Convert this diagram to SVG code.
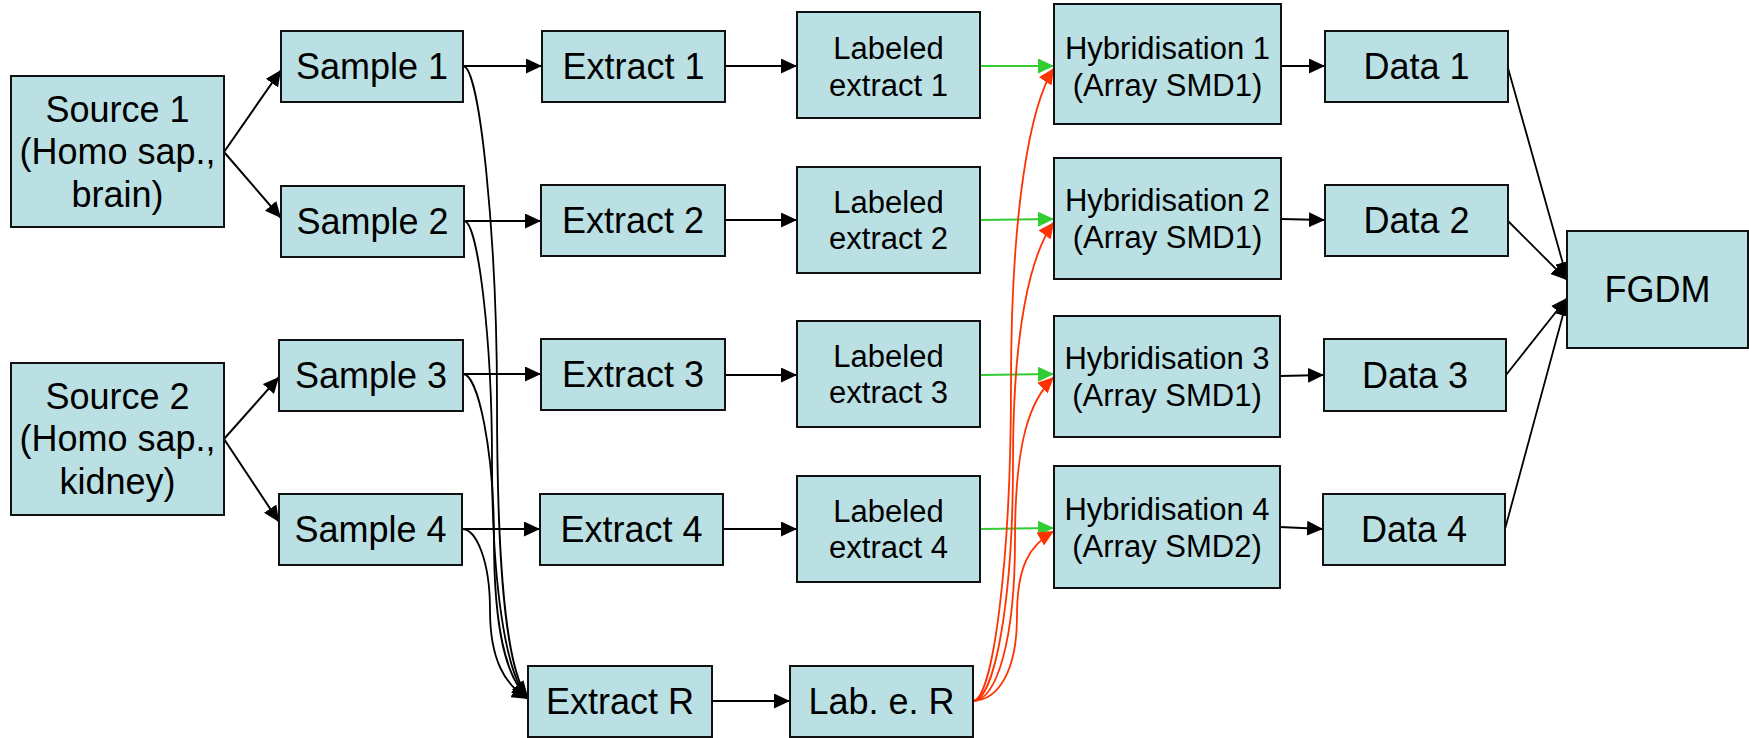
<svg xmlns="http://www.w3.org/2000/svg" width="1749" height="738" viewBox="0 0 1749 738">
  <style>
    .box { fill: #BBE0E3; stroke: #111; stroke-width: 2; }
    .t36 { font-family: "Liberation Sans", Arial, sans-serif; font-size: 36px; fill: #000; text-anchor: middle; }
    .t31 { font-family: "Liberation Sans", Arial, sans-serif; font-size: 31px; fill: #000; text-anchor: middle; }
    .blk { fill: none; stroke: #000; stroke-width: 2; marker-end: url(#ab); }
    .crv { fill: none; stroke: #000; stroke-width: 1.8; marker-end: url(#ab); }
    .grn { fill: none; stroke: #33CC33; stroke-width: 2; marker-end: url(#ag); }
    .red { fill: none; stroke: #FF3300; stroke-width: 1.8; marker-end: url(#ar); }
  </style>
  <defs>
    <marker id="ab" markerUnits="userSpaceOnUse" markerWidth="16" markerHeight="15" refX="16" refY="7.5" orient="auto">
      <path d="M0,0 L16,7.5 L0,15 Z" fill="#000"/>
    </marker>
    <marker id="ag" markerUnits="userSpaceOnUse" markerWidth="16" markerHeight="15" refX="16" refY="7.5" orient="auto">
      <path d="M0,0 L16,7.5 L0,15 Z" fill="#33CC33"/>
    </marker>
    <marker id="ar" markerUnits="userSpaceOnUse" markerWidth="16" markerHeight="15" refX="16" refY="7.5" orient="auto">
      <path d="M0,0 L16,7.5 L0,15 Z" fill="#FF3300"/>
    </marker>
  </defs>

  <rect width="1749" height="738" fill="#fff"/>

  <!-- connectors -->
  <g id="connectors">
    <!-- sources to samples -->
    <path class="blk" d="M224,152 L281,70"/>
    <path class="blk" d="M224,152 L281,218"/>
    <path class="blk" d="M224,439 L279,377"/>
    <path class="blk" d="M224,439 L279,522"/>
    <!-- samples to extracts -->
    <path class="blk" d="M463,66 L542,66"/>
    <path class="blk" d="M464,221 L541,221"/>
    <path class="blk" d="M463,374 L541,374"/>
    <path class="blk" d="M462,529 L540,529"/>
    <!-- samples to reference extract -->
    <path class="crv" d="M463,66 C480,66 497,240 497,400 C497,560 505,670 528,697"/>
    <path class="crv" d="M464,221 C478,221 492,340 492,460 C492,580 505,675 528,698"/>
    <path class="crv" d="M463,374 C478,374 494,450 494,540 C494,630 506,678 528,698"/>
    <path class="crv" d="M462,529 C476,529 490,560 490,610 C490,660 505,685 528,699"/>
    <!-- extracts to labeled extracts -->
    <path class="blk" d="M725,66 L797,66"/>
    <path class="blk" d="M725,220 L797,220"/>
    <path class="blk" d="M725,375 L797,375"/>
    <path class="blk" d="M723,529 L797,529"/>
    <path class="blk" d="M712,701 L790,701"/>
    <!-- labeled extracts to hybridisations -->
    <path class="grn" d="M980,66 L1054,66"/>
    <path class="grn" d="M980,220 L1054,219"/>
    <path class="grn" d="M980,375 L1054,374"/>
    <path class="grn" d="M980,529 L1054,528"/>
    <!-- labeled reference to hybridisations -->
    <path class="red" d="M973,701 C993,700 1011,560 1011,385 C1011,210 1030,105 1054,68"/>
    <path class="red" d="M973,701 C995,700 1013,600 1013,462 C1013,330 1030,255 1054,222"/>
    <path class="red" d="M973,701 C997,700 1015,640 1015,540 C1015,440 1030,400 1054,377"/>
    <path class="red" d="M973,701 C999,700 1017,670 1017,616 C1017,565 1030,545 1054,531"/>
    <!-- hybridisations to data -->
    <path class="blk" d="M1281,66 L1325,66"/>
    <path class="blk" d="M1281,219 L1325,220"/>
    <path class="blk" d="M1280,376 L1324,375"/>
    <path class="blk" d="M1280,527 L1323,529"/>
    <!-- data to FGDM -->
    <path class="blk" d="M1508,68 L1567,278" style="stroke-width:1.8"/>
    <path class="blk" d="M1508,221 L1567,280" style="stroke-width:1.8"/>
    <path class="blk" d="M1506,375 L1567,298" style="stroke-width:1.8"/>
    <path class="blk" d="M1505,529 L1567,300" style="stroke-width:1.8"/>
  </g>

  <!-- nodes -->
  <g id="source1">
    <rect class="box" x="11" y="76" width="213" height="151"/>
    <text class="t36" x="117.5" y="122">Source 1</text>
    <text class="t36" x="117.5" y="164">(Homo sap.,</text>
    <text class="t36" x="117.5" y="207">brain)</text>
  </g>
  <g id="source2">
    <rect class="box" x="11" y="363" width="213" height="152"/>
    <text class="t36" x="117.5" y="409">Source 2</text>
    <text class="t36" x="117.5" y="451">(Homo sap.,</text>
    <text class="t36" x="117.5" y="494">kidney)</text>
  </g>

  <g id="sample1">
    <rect class="box" x="281" y="31" width="182" height="71"/>
    <text class="t36" x="372" y="79">Sample 1</text>
  </g>
  <g id="sample2">
    <rect class="box" x="281" y="186" width="183" height="71"/>
    <text class="t36" x="372.5" y="234">Sample 2</text>
  </g>
  <g id="sample3">
    <rect class="box" x="279" y="340" width="184" height="71"/>
    <text class="t36" x="371" y="388">Sample 3</text>
  </g>
  <g id="sample4">
    <rect class="box" x="279" y="494" width="183" height="71"/>
    <text class="t36" x="370.5" y="542">Sample 4</text>
  </g>

  <g id="extract1">
    <rect class="box" x="542" y="31" width="183" height="71"/>
    <text class="t36" x="633.5" y="79">Extract 1</text>
  </g>
  <g id="extract2">
    <rect class="box" x="541" y="185" width="184" height="71"/>
    <text class="t36" x="633" y="233">Extract 2</text>
  </g>
  <g id="extract3">
    <rect class="box" x="541" y="339" width="184" height="71"/>
    <text class="t36" x="633" y="387">Extract 3</text>
  </g>
  <g id="extract4">
    <rect class="box" x="540" y="494" width="183" height="71"/>
    <text class="t36" x="631.5" y="542">Extract 4</text>
  </g>
  <g id="extractR">
    <rect class="box" x="528" y="666" width="184" height="71"/>
    <text class="t36" x="620" y="714">Extract R</text>
  </g>

  <g id="labeled1">
    <rect class="box" x="797" y="12" width="183" height="106"/>
    <text class="t31" x="888.5" y="59">Labeled</text>
    <text class="t31" x="888.5" y="96">extract 1</text>
  </g>
  <g id="labeled2">
    <rect class="box" x="797" y="167" width="183" height="106"/>
    <text class="t31" x="888.5" y="213">Labeled</text>
    <text class="t31" x="888.5" y="249">extract 2</text>
  </g>
  <g id="labeled3">
    <rect class="box" x="797" y="321" width="183" height="106"/>
    <text class="t31" x="888.5" y="367">Labeled</text>
    <text class="t31" x="888.5" y="403">extract 3</text>
  </g>
  <g id="labeled4">
    <rect class="box" x="797" y="476" width="183" height="106"/>
    <text class="t31" x="888.5" y="522">Labeled</text>
    <text class="t31" x="888.5" y="558">extract 4</text>
  </g>
  <g id="labeledR">
    <rect class="box" x="790" y="666" width="183" height="71"/>
    <text class="t36" x="881.5" y="714">Lab. e. R</text>
  </g>

  <g id="hyb1">
    <rect class="box" x="1054" y="4" width="227" height="120"/>
    <text class="t31" x="1167.5" y="59">Hybridisation 1</text>
    <text class="t31" x="1167.5" y="96">(Array SMD1)</text>
  </g>
  <g id="hyb2">
    <rect class="box" x="1054" y="158" width="227" height="121"/>
    <text class="t31" x="1167.5" y="211">Hybridisation 2</text>
    <text class="t31" x="1167.5" y="248">(Array SMD1)</text>
  </g>
  <g id="hyb3">
    <rect class="box" x="1054" y="316" width="226" height="121"/>
    <text class="t31" x="1167" y="369">Hybridisation 3</text>
    <text class="t31" x="1167" y="406">(Array SMD1)</text>
  </g>
  <g id="hyb4">
    <rect class="box" x="1054" y="466" width="226" height="122"/>
    <text class="t31" x="1167" y="520">Hybridisation 4</text>
    <text class="t31" x="1167" y="557">(Array SMD2)</text>
  </g>

  <g id="data1">
    <rect class="box" x="1325" y="31" width="183" height="71"/>
    <text class="t36" x="1416.5" y="79">Data 1</text>
  </g>
  <g id="data2">
    <rect class="box" x="1325" y="185" width="183" height="71"/>
    <text class="t36" x="1416.5" y="233">Data 2</text>
  </g>
  <g id="data3">
    <rect class="box" x="1324" y="339" width="182" height="72"/>
    <text class="t36" x="1415" y="388">Data 3</text>
  </g>
  <g id="data4">
    <rect class="box" x="1323" y="494" width="182" height="71"/>
    <text class="t36" x="1414" y="542">Data 4</text>
  </g>

  <g id="fgdm">
    <rect class="box" x="1567" y="231" width="181" height="117"/>
    <text class="t36" x="1657.5" y="302">FGDM</text>
  </g>
</svg>
